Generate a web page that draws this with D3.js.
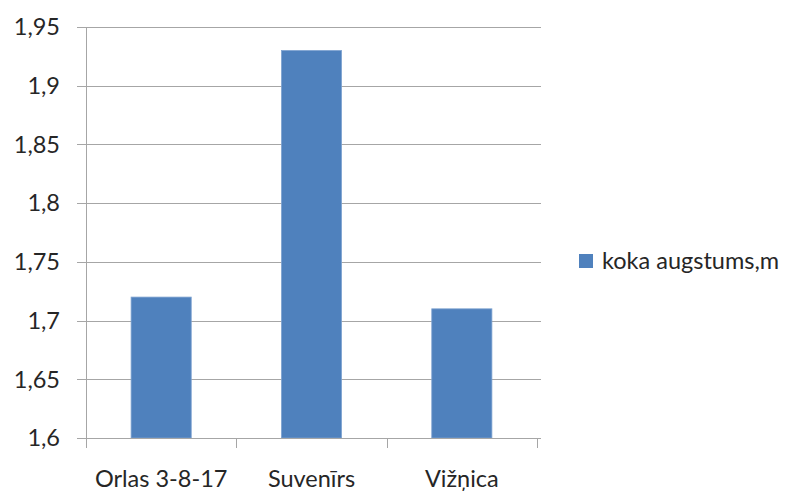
<!DOCTYPE html>
<html>
<head>
<meta charset="utf-8">
<script src="https://cdn.jsdelivr.net/npm/d3@7/dist/d3.min.js"></script>
<style>
  html, body { margin: 0; padding: 0; background: #fff; }
  svg { display: block; font-family: Lato, "Open Sans", sans-serif; }
</style>
</head>
<body>
<svg id="chart" width="791" height="493"></svg>
<script>
// Tree height per variety
const categories = ["Orlas 3-8-17", "Suvenīrs", "Vižņica"];
const heights = [1.72, 1.93, 1.71];
const seriesName = "koka augstums,m";
const yTicks = [1.6, 1.65, 1.7, 1.75, 1.8, 1.85, 1.9, 1.95];

const svg = d3.select("#chart");
const plot = { left: 86, right: 537, top: 27, bottom: 438 };
const fontSize = 23.5;

const x = d3.scaleBand()
  .domain(categories)
  .range([plot.left, plot.right])
  .paddingInner(0.6)
  .paddingOuter(0.3);

const y = d3.scaleLinear()
  .domain([1.6, 1.95])
  .range([plot.bottom, plot.top]);

const fmt = d => String(+d.toFixed(2)).replace(".", ",");
const gridColor = "#a6a6a6";
const textColor = "#262626";

// horizontal gridlines with left tick marks
svg.append("g")
  .selectAll("line")
  .data(yTicks)
  .join("line")
  .attr("x1", plot.left - 9)
  .attr("x2", plot.right + 4)
  .attr("y1", d => Math.round(y(d)) + 0.5)
  .attr("y2", d => Math.round(y(d)) + 0.5)
  .attr("stroke", gridColor)
  .attr("stroke-width", 1);

// y axis labels
svg.append("g")
  .selectAll("text")
  .data(yTicks)
  .join("text")
  .attr("x", 60)
  .attr("y", d => y(d))
  .attr("dy", "0.35em")
  .attr("text-anchor", "end")
  .attr("font-size", fontSize)
  .attr("fill", textColor)
  .text(fmt);

// bars
svg.append("g")
  .selectAll("rect")
  .data(categories.map((c, i) => ({ c, v: heights[i] })))
  .join("rect")
  .attr("x", d => x(d.c))
  .attr("y", d => y(d.v))
  .attr("width", x.bandwidth())
  .attr("height", d => y(1.6) - y(d.v))
  .attr("fill", "#4f81bd")
  .attr("stroke", "#7fa3d0")
  .attr("stroke-width", 0.8);

// y axis line
svg.append("line")
  .attr("x1", plot.left + 0.5).attr("x2", plot.left + 0.5)
  .attr("y1", plot.top).attr("y2", plot.bottom)
  .attr("stroke", gridColor);

// x axis line and category separators
svg.append("line")
  .attr("x1", plot.left - 9).attr("x2", plot.right + 0.5)
  .attr("y1", plot.bottom + 0.5).attr("y2", plot.bottom + 0.5)
  .attr("stroke", gridColor);

const bounds = categories.map(c => x(c) - x.step() * x.paddingInner() / 2)
  .concat([plot.right]);
bounds[0] = plot.left;
svg.append("g")
  .selectAll("line")
  .data(bounds)
  .join("line")
  .attr("x1", d => Math.round(d) + 0.5)
  .attr("x2", d => Math.round(d) + 0.5)
  .attr("y1", plot.bottom)
  .attr("y2", plot.bottom + 10)
  .attr("stroke", gridColor);

// category labels
svg.append("g")
  .selectAll("text")
  .data(categories)
  .join("text")
  .attr("x", d => x(d) + x.bandwidth() / 2)
  .attr("y", 487)
  .attr("text-anchor", "middle")
  .attr("font-size", fontSize)
  .attr("fill", textColor)
  .text(d => d);

// legend
const legend = svg.append("g");
legend.append("rect")
  .attr("x", 579).attr("y", 254)
  .attr("width", 14).attr("height", 14)
  .attr("fill", "#4f81bd");
legend.append("text")
  .attr("x", 602).attr("y", 269)
  .attr("font-size", fontSize)
  .attr("fill", textColor)
  .text(seriesName);
</script>
</body>
</html>
